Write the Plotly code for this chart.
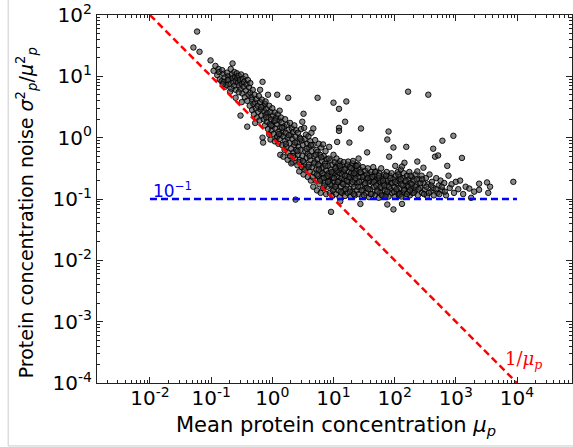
import numpy as np
import plotly.graph_objects as go

# ---- data, stored as log10 values ----
log10_mean = [
    -1.23, -1.29, -1.19, -1.01, -0.93, -0.96, -0.88, -0.90, -0.86, -0.87,
    -0.82, -0.80, -0.78, -0.83, -0.79, -0.77, -0.74, -0.72, -0.71, -0.70, -0.69, -0.68, -0.66, -0.65, -0.65, -0.64,
    -0.63, -0.62, -0.61, -0.60, -0.60, -0.60, -0.75, -0.81, -0.73, -0.67,
    -0.58, -0.57, -0.56, -0.55, -0.54, -0.53, -0.52, -0.52, -0.51, -0.50, -0.49, -0.48, -0.47, -0.46, -0.45, -0.44,
    -0.43, -0.42, -0.41, -0.41, -0.40, -0.39, -0.38, -0.37, -0.36, -0.36, -0.55, -0.50,
    -0.34, -0.33, -0.33, -0.32, -0.31, -0.30, -0.29, -0.28, -0.28, -0.27, -0.26, -0.25, -0.24, -0.23, -0.22, -0.21,
    -0.20, -0.20, -0.19, -0.18, -0.17, -0.16, -0.16, -0.15, -0.15, -0.14, -0.13, -0.12, -0.12, -0.11, -0.11,
    -0.10, -0.09, -0.08, -0.07, -0.07, -0.06, -0.05, -0.05, -0.04, -0.03, -0.03, -0.02, -0.01, 0.00, 0.00, 0.01,
    0.02, 0.03, 0.04, 0.04, 0.05, 0.06, 0.07, 0.08, 0.08, 0.08, 0.09, 0.10, 0.10, 0.11, 0.12, 0.12, 0.13, 0.13,
    0.14, 0.14,
    0.15, 0.16, 0.17, 0.18, 0.18, 0.19, 0.20, 0.21, 0.21, 0.22, 0.23, 0.24, 0.25, 0.25, 0.26, 0.26, 0.27, 0.28,
    0.29, 0.29, 0.30, 0.31, 0.32, 0.33, 0.33, 0.34, 0.35, 0.36, 0.36, 0.37, 0.38, 0.38, 0.39, 0.39,
    0.40, 0.41, 0.42, 0.42, 0.43, 0.44, 0.45, 0.45, 0.46, 0.47, 0.48, 0.48, 0.49, 0.49, 0.50, 0.51, 0.51, 0.52,
    0.52, 0.53, 0.54, 0.55, 0.55, 0.56, 0.57, 0.58, 0.58, 0.59, 0.60, 0.60, 0.61, 0.62, 0.62, 0.63, 0.64, 0.64,
    0.65, 0.66, 0.67, 0.67, 0.68, 0.69, 0.70, 0.70, 0.71, 0.72, 0.72, 0.73, 0.74, 0.74, 0.74, 0.75, 0.76, 0.77,
    0.77, 0.78, 0.79, 0.79, 0.80, 0.81, 0.81, 0.82, 0.83, 0.83, 0.84, 0.85, 0.86, 0.86, 0.87, 0.88, 0.88, 0.89,
    0.89,
    0.90, 0.91, 0.92, 0.93, 0.93, 0.94, 0.95, 0.95, 0.96, 0.96, 0.97, 0.98, 0.98, 0.99, 1.00, 1.00, 1.00, 1.01,
    1.02, 1.02, 1.03, 1.04, 1.04, 1.05, 1.05, 1.06, 1.06, 1.07, 1.08, 1.08, 1.09, 1.09, 1.09, 1.09, 1.10, 1.10,
    1.11, 1.11, 1.12, 1.12, 1.13, 1.14, 1.14, 1.15,
    1.16, 1.17, 1.17, 1.18, 1.19, 1.19, 1.20, 1.21, 1.21, 1.22, 1.23, 1.23, 1.24, 1.24, 1.25, 1.26, 1.26, 1.27,
    1.28, 1.28, 1.29, 1.30, 1.31, 1.31, 1.32, 1.32, 1.33, 1.34, 1.35, 1.35, 1.36, 1.37, 1.38, 1.38, 1.39, 1.40,
    1.41, 1.41, 1.42, 1.43, 1.44, 1.44, 1.45, 1.45, 1.46, 1.47, 1.48, 1.49, 1.50, 1.51, 1.52, 1.53, 1.54, 1.55,
    1.55, 1.56, 1.57, 1.58, 1.59, 1.60, 1.61, 1.62, 1.63, 1.64, 1.65,
    1.66, 1.67, 1.68, 1.69, 1.70, 1.71, 1.72, 1.73, 1.74, 1.75, 1.76, 1.77, 1.78, 1.79, 1.80, 1.81, 1.82, 1.83,
    1.84, 1.85, 1.86, 1.87, 1.88, 1.88, 1.88, 1.89, 1.90, 1.90, 1.91, 1.92, 1.93, 1.94,
    1.95, 1.96, 1.98, 1.98, 1.98, 1.99, 2.00, 2.01, 2.02, 2.03, 2.04, 2.05, 2.06, 2.07, 2.08, 2.09, 2.10, 2.11,
    2.12, 2.12, 2.13, 2.14, 2.15, 2.16, 2.16, 2.17, 2.18, 2.19, 2.20, 2.21, 2.22, 2.22, 2.23, 2.24, 2.25, 2.26,
    2.27, 2.28, 2.29,
    2.31, 2.33, 2.34, 2.36, 2.37, 2.37, 2.38, 2.40, 2.42, 2.44, 2.45, 2.47, 2.47, 2.49, 2.51, 2.53, 2.55, 2.55,
    2.57, 2.59, 2.61, 2.63, 2.63,
    2.66, 2.68, 2.70, 2.71, 2.72, 2.75, 2.78, 2.78, 2.81, 2.84, 2.86, 2.88, 2.90, 2.93, 2.96, 2.97, 3.00, 3.04,
    3.07, 3.10, 3.12, 3.16,
    3.22, 3.25, 3.30, 3.38, 3.38, 3.51, 3.53, 3.56, 3.94,
]
log10_noise = [
    1.73, 1.47, 1.40, 1.26, 1.17, 1.09, 1.12, 1.02, 0.95, 1.07,
    1.10, 1.04, 0.98, 0.92, 0.91, 0.83, 1.06, 1.00, 0.95, 0.88, 0.75, 1.12, 1.03, 1.21, 0.97, 0.90,
    0.84, 1.07, 0.99, 0.65, 0.93, 0.78, 0.86, 0.87, 0.94, 0.80,
    1.05, 0.97, 0.90, 1.01, 0.85, 0.94, 0.79, 0.36, 1.03, 0.88, 0.72, 0.96, 0.83, 0.91, 0.66, 1.00,
    0.77, 0.87, 0.60, 0.18, 0.94, 0.70, 0.82, 0.52, 0.73, 0.89, 0.74, 0.58,
    0.66, 0.62, 0.45, 0.78, 0.55, 0.38, 0.70, 0.57, 0.24, 0.48, 0.63, 0.33, 0.52, 0.42, 0.68, 0.28,
    0.78, 0.58, 0.46, 0.36, 0.62, 0.91, 0.00, 0.51, -0.08, 0.30, 0.43, 0.55, 0.20, 0.59, 0.37,
    0.47, 0.26, 0.40, 0.70, 0.14, 0.33, 0.52, 0.05, 0.22, -0.03, 0.42, 0.30, 0.12, 0.48, 0.19, 0.36,
    0.06, 0.27, -0.06, 0.41, 0.15, 0.32, 0.00, 0.70, 0.22, 0.02, 0.38, -0.10, 0.10, 0.28, -0.02, 0.44, 0.17, -0.28,
    0.05, 0.33,
    0.25, -0.12, 0.10, -0.31, 0.02, 0.18, -0.20, 0.30, -0.05, 0.08, -0.15, 0.21, -0.36, 0.00, 0.65, -0.25, 0.13, -0.09,
    0.24, -0.30, 0.04, -0.18, 0.15, -0.40, -0.02, 0.09, -0.24, 0.20, -0.12, -0.33, 0.02, -1.01, -0.20, 0.12,
    -0.08, -0.45, 0.08, -0.28, -0.15, -0.55, 0.00, -0.36, -0.20, 0.14, -0.48, -0.05, 0.26, -0.30, -0.12, 0.39, -0.60, 0.16,
    -0.40, -0.02, -0.22, -0.50, 0.05, -0.33, -0.10, -0.64, -0.26, 0.02, -0.44, -0.16, -0.55, -0.06, -0.36, -0.70, -0.22, 0.08,
    -0.48, -0.12, 0.15, -0.80, -0.30, -0.58, -0.04, -0.40, -0.70, -0.20, -0.52, -0.86, 0.65, -0.23, -0.35, -0.62, -0.10, -0.46,
    -0.76, -0.28, -0.90, -0.55, -0.16, -0.38, -0.67, -0.50, -0.11, -0.82, -0.30, -0.60, -0.42, -0.72, -0.22, -0.92, -0.53, -0.35,
    -0.65,
    -0.80, -0.46, -0.58, -0.15, -0.70, -0.90, -0.37, -0.62, -1.21, -0.52, -0.78, -0.44, -0.95, -0.66, 0.57, -0.28, -0.56, -0.84,
    -0.40, -0.72, -0.60, -0.92, -0.48, -0.34, -0.76, -0.07, -0.64, -0.53, -0.86, -0.42, 0.47, 0.16, 0.11, -0.70, -0.58, -0.97,
    -1.04, -0.38, -0.80, -0.50, -0.66, -0.90, -0.45, -0.74,
    -0.56, -0.86, -0.40, -0.68, 0.26, -0.95, -0.50, 0.59, -0.78, -0.62, -0.44, -0.90, -0.39, -0.72, -0.56, -0.08, -0.84, -0.48,
    -0.66, -0.96, -0.58, -0.76, -0.42, -0.88, -0.38, -0.62, -0.52, -0.80, -0.70, -0.94, -0.46, -0.60, -0.86, -0.54, -0.74, -0.44,
    -0.34, -0.92, -0.64, -0.52, -1.08, -0.80, 0.15, -0.58, -0.70, -0.96, -0.48, -0.86, -0.62, -0.76, -0.54, -0.90, -0.68, -0.24,
    -0.82, -0.50, -0.72, -0.97, -0.60, -0.84, -0.66, -0.56, -0.92, -0.74, -0.48,
    -0.80, -0.62, -0.94, -0.70, -0.55, -0.86, -0.66, -0.76, -0.98, -0.58, -0.90, -0.72, -0.50, -0.82, -0.64, -0.95, -0.74, -0.60,
    -0.86, -0.68, -0.92, -0.56, -0.03, -1.09, -0.78, -0.70, 0.10, -0.96, -0.31, -0.62, -0.84, -0.74,
    -0.58, -0.90, -0.16, -1.17, -0.68, -0.80, -0.96, -0.46, -0.62, -0.74, -0.88, -0.56, -0.70, -0.94, -0.64, -0.82, -0.52, -0.76,
    -0.47, -1.08, -0.90, -0.66, -0.58, -0.41, -0.84, -0.72, -0.96, -0.15, -0.62, -0.78, 0.75, -0.88, -0.68, -0.56, -0.94, -0.74,
    -0.82, -0.64, -0.90,
    -0.70, -0.86, -0.60, -0.78, -0.39, -0.55, -0.94, -0.68, -0.82, -0.62, -0.90, -0.49, -0.74, -0.85, -0.66, -0.95, 0.70, -0.76,
    -0.60, -0.88, -0.72, -0.18, -0.82,
    -0.31, -0.66, -0.90, -0.29, -0.78, -0.70, -0.05, -0.86, -0.74, -0.94, -0.46, -0.62, -0.82, -0.76, 0.03, -0.90, -0.72, -0.84,
    -0.70, -0.33, -0.92, -0.80,
    -0.83, -0.98, -0.88, -0.75, -0.85, -0.73, -0.90, -0.80, -0.72,
]

# dense core of the cloud, log10 values
core_log10_mean = [
    0.31, 0.34, 0.37, 0.41, 0.44, 0.46, 0.50, 0.53, 0.56, 0.59, 0.61, 0.63,
    0.66, 0.68, 0.71, 0.73, 0.75, 0.78, 0.80, 0.82, 0.85, 0.87, 0.90, 0.92, 0.94, 0.97, 0.99, 0.91, 0.84, 0.76,
    1.01, 1.03, 1.05, 1.07, 1.10, 1.12, 1.14, 1.16, 1.18, 1.20, 1.22, 1.25, 1.27, 1.29, 1.31, 1.33, 1.36, 1.38,
    1.40, 1.42, 1.44, 1.46, 1.48, 1.50, 1.03, 1.19, 1.34,
    1.52, 1.54, 1.57, 1.59, 1.61, 1.63, 1.66, 1.68, 1.70, 1.72, 1.75, 1.77, 1.79, 1.81, 1.83, 1.86, 1.88, 1.91,
    1.93, 1.96, 1.99, 1.56, 1.74, 1.85,
    2.01, 2.03, 2.06, 2.08, 2.10, 2.13, 2.15, 2.18, 2.20, 2.23, 2.26, 2.28, 2.31, 2.34, 2.36, 2.39, 2.42, 2.45,
    2.48, 2.11, 2.25,
    2.52, 2.56, 2.60, 2.64, 2.68, 2.73, 2.77, 2.82,
    -0.18, -0.10, -0.02, 0.05, 0.11, 0.16, 0.22, 0.27,
]
core_log10_noise = [
    -0.42, -0.30, -0.08, -0.22, -0.40, -0.02, -0.38, -0.52, -0.18, -0.48, -0.30, -0.12,
    -0.64, -0.42, -0.28, -0.60, -0.44, -0.70, -0.32, -0.58, -0.78, -0.46, -0.62, -0.34, -0.76, -0.56, -0.86, -0.72, -0.66, -0.52,
    -0.66, -0.80, -0.54, -0.72, -0.46, -0.88, -0.60, -0.76, -0.52, -0.84, -0.70, -0.64, -0.88, -0.50, -0.72, -0.92, -0.66, -0.46,
    -0.80, -0.72, -0.56, -0.86, -0.64, -0.94, -0.50, -0.62, -0.58,
    -0.74, -0.60, -0.84, -0.70, -0.92, -0.64, -0.72, -0.56, -0.78, -0.88, -0.66, -0.80, -0.94, -0.70, -0.78, -0.62, -0.88, -0.80,
    -0.66, -0.74, -0.88, -0.66, -0.62, -0.96,
    -0.72, -0.84, -0.60, -0.92, -0.68, -0.78, -0.86, -0.70, -0.92, -0.80, -0.62, -0.76, -0.90, -0.80, -0.68, -0.84, -0.74, -0.68,
    -0.92, -0.96, -0.86,
    -0.80, -0.90, -0.78, -0.94, -0.84, -0.92, -0.80, -0.88,
    0.50, 0.33, 0.20, 0.28, 0.06, 0.16, -0.10, 0.04,
]

assert len(log10_mean) == len(log10_noise), (len(log10_mean), len(log10_noise))
assert len(core_log10_mean) == len(core_log10_noise), (len(core_log10_mean), len(core_log10_noise))

# reference lines
line_mean = [1e-2, 1e4]
line_inverse = [1e2, 1e-4]      # 1/mu
line_floor = [0.1, 0.1]          # 10^-1

x_tick_exps = [-2, -1, 0, 1, 2, 3, 4]
y_tick_exps = [-4, -3, -2, -1, 0, 1, 2]

mu = 10 ** np.array(log10_mean + core_log10_mean)
noise = 10 ** np.array(log10_noise + core_log10_noise)

fig = go.Figure()
fig.add_trace(go.Scatter(
    x=mu, y=noise, mode="markers",
    marker=dict(size=5.5, color="rgba(60,60,60,0.6)",
                line=dict(color="rgba(0,0,0,0.9)", width=1)),
    showlegend=False, hoverinfo="skip"))
fig.add_trace(go.Scatter(
    x=line_mean, y=line_inverse, mode="lines",
    line=dict(color="#ff0000", width=2.5, dash="7px,4px"), showlegend=False))
fig.add_trace(go.Scatter(
    x=line_mean, y=line_floor, mode="lines",
    line=dict(color="#0000ff", width=2.5, dash="7px,4px"), showlegend=False))

def tick_text(e):
    return "10<sup>%s</sup>" % (str(e) if e >= 0 else "-" + str(-e))

minor_vals = [k * 10.0 ** e for e in range(-4, 6) for k in range(2, 10)]

axis_common = dict(
    type="log", showgrid=False, zeroline=False, automargin=False,
    showline=True, linecolor="#222", linewidth=1.2, mirror="allticks",
    ticks="inside", ticklen=6, tickwidth=1, tickcolor="#222",
    ticklabeloverflow="allow",
    tickfont=dict(family="DejaVu Sans", size=20, color="black"),
    minor=dict(tickvals=minor_vals, ticks="inside", ticklen=3, tickwidth=1,
               tickcolor="#222", showgrid=False),
)

fig.update_xaxes(
    range=[-2.866, 4.899],
    tickvals=[10.0 ** e for e in x_tick_exps],
    ticktext=[tick_text(e) for e in x_tick_exps],
    ticklabelstandoff=-3,
    **axis_common)
fig.update_yaxes(
    range=[-4, 2],
    tickvals=[10.0 ** e for e in y_tick_exps],
    ticktext=[tick_text(e) for e in y_tick_exps],
    **axis_common)

# axis titles
fig.add_annotation(xref="paper", yref="paper", x=0.503, y=-0.117, xanchor="center", yanchor="middle",
                   text="Mean protein concentration <i>μ</i><sub><i>p</i></sub>", showarrow=False,
                   font=dict(family="DejaVu Sans", size=21, color="black"))
fig.add_annotation(xref="paper", yref="paper", x=-0.148, y=0.463, xanchor="center", yanchor="middle",
                   textangle=-90,
                   text="Protein concentration noise <i>σ</i><sup>2</sup><sub><i>p</i></sub>/<i>μ</i><sup>2</sup><sub><i>p</i></sub>",
                   showarrow=False, font=dict(family="DejaVu Sans", size=19, color="black"))

fig.add_annotation(x=-1.64, y=-0.86, xref="x", yref="y", text="10<sup>−1</sup>",
                   showarrow=False, font=dict(family="DejaVu Sans", size=17, color="#0000ff"))
fig.add_annotation(x=4.10, y=-3.63, xref="x", yref="y", text="1/<i>μ</i><sub><i>p</i></sub>",
                   showarrow=False, font=dict(family="DejaVu Serif", size=18, color="#ff0000"))

# light frame of the original figure (left and bottom edges)
fig.add_shape(type="line", xref="paper", yref="paper", x0=-0.187, x1=-0.187, y0=-0.171, y1=1.05,
              line=dict(color="#cccccc", width=1))
fig.add_shape(type="line", xref="paper", yref="paper", x0=-0.187, x1=1.01, y0=-0.171, y1=-0.171,
              line=dict(color="#cccccc", width=1))

fig.update_layout(
    width=573, height=447,
    margin=dict(l=97, r=1, t=15, b=64),
    paper_bgcolor="white", plot_bgcolor="white",
)
# remove the page's default body margin so the figure fills the window
fig.write_html("out.html", config={"displayModeBar": False},
               post_script="document.body.style.margin='0';")
